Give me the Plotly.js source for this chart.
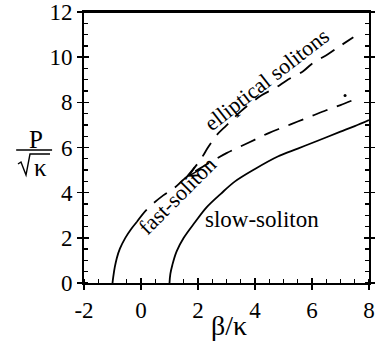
<!DOCTYPE html>
<html><head><meta charset="utf-8">
<script src="https://cdn.plot.ly/plotly-3.0.1.min.js"></script>
<style>html,body{margin:0;padding:0;background:#fff}#chart{width:375px;height:345px}</style>
</head><body><div id="chart"></div>
<script>
// slow soliton (solid)
const slowX = [1.0, 1.03, 1.1, 1.25, 1.5, 1.9, 2.3, 2.8, 3.3, 4.0, 4.8, 5.5, 6.2, 7.0, 7.5, 8.0];
const slowY = [0.0, 0.4, 0.8, 1.4, 2.0, 2.7, 3.35, 3.95, 4.5, 5.05, 5.6, 5.95, 6.3, 6.7, 6.95, 7.22];
// fast soliton, stable part (solid)
const fastSolidX = [-1.0, -0.97, -0.92, -0.85, -0.74, -0.55, -0.35, -0.15];
const fastSolidY = [0.0, 0.3, 0.7, 1.1, 1.52, 2.0, 2.38, 2.7];
// fast soliton, continuation (dashed)
const fastDashX = [-0.15, 0.2, 0.78, 1.13, 1.6, 2.0, 2.5, 3.0, 3.5, 4.0, 4.5, 5.0, 5.5, 6.0, 6.5, 7.0, 7.56];
const fastDashY = [2.7, 3.25, 3.88, 4.17, 4.69, 5.02, 5.4, 5.75, 6.05, 6.35, 6.65, 6.9, 7.15, 7.4, 7.65, 7.88, 8.16];
// elliptical solitons (dashed)
const ellX = [1.6, 2.07, 2.36, 2.65, 3.0, 3.5, 4.23, 4.76, 5.11, 5.69, 5.99, 6.57, 6.92, 7.45];
const ellY = [4.69, 5.43, 6.02, 6.54, 6.98, 7.6, 8.31, 8.67, 8.97, 9.38, 9.70, 10.14, 10.44, 10.88];
// isolated dot
const dotX = [7.16];
const dotY = [8.3];

const xTicks = [-2, 0, 2, 4, 6, 8];
const yTicks = [0, 2, 4, 6, 8, 10, 12];

const FONT = "'Liberation Serif', 'Times New Roman', serif";
const line = {color: '#000', width: 1.8, shape: 'spline'};
const dashLine = {color: '#000', width: 1.8, dash: '16px,10px', shape: 'spline'};

const traces = [
  {x: slowX, y: slowY, mode: 'lines', line: line, hoverinfo: 'skip'},
  {x: fastSolidX, y: fastSolidY, mode: 'lines', line: line, hoverinfo: 'skip'},
  {x: fastDashX, y: fastDashY, mode: 'lines', line: dashLine, hoverinfo: 'skip'},
  {x: ellX, y: ellY, mode: 'lines', line: dashLine, hoverinfo: 'skip'},
  {x: dotX, y: dotY, mode: 'markers', marker: {color: '#000', size: 3}, hoverinfo: 'skip'},
  {x: [null], y: [null], xaxis: 'x2', yaxis: 'y2', mode: 'lines', hoverinfo: 'skip'}
];
traces.forEach(t => { t.showlegend = false; });

const tf = {family: FONT, size: 23, color: '#000'};
const axBase = {showgrid: false, zeroline: false, tickcolor: '#000', tickwidth: 1.6, fixedrange: true};
const layout = {
  width: 375, height: 345,
  margin: {l: 84, r: 6, t: 12, b: 62},
  paper_bgcolor: '#fff', plot_bgcolor: '#fff',
  showlegend: false,
  font: {family: FONT, color: '#000', size: 22},
  xaxis: Object.assign({}, axBase, {
    range: [-2, 8], tickvals: xTicks, ticktext: xTicks.map(String),
    showline: true, linewidth: 2, linecolor: '#000', mirror: true,
    ticks: 'outside', ticklen: 5, tickfont: tf, ticklabeloverflow: 'allow',
    minor: {ticks: 'inside', ticklen: 4, dtick: 0.5, tickwidth: 1.3, tickcolor: '#000', showgrid: false}
  }),
  yaxis: Object.assign({}, axBase, {
    range: [0, 12], tickvals: yTicks, ticktext: yTicks.map(String),
    showline: true, linewidth: 2, linecolor: '#000', mirror: 'ticks',
    ticks: 'outside', ticklen: 5, tickfont: tf, ticklabeloverflow: 'allow',
    minor: {ticks: 'inside', ticklen: 4, dtick: 0.5, tickwidth: 1.3, tickcolor: '#000', showgrid: false}
  }),
  xaxis2: Object.assign({}, axBase, {
    range: [-2, 8], overlaying: 'x', anchor: 'y', side: 'bottom', tickvals: xTicks,
    ticks: 'inside', ticklen: 5, showticklabels: false, showline: false
  }),
  yaxis2: Object.assign({}, axBase, {
    range: [0, 12], overlaying: 'y', anchor: 'x', side: 'left', tickvals: yTicks,
    ticks: 'inside', ticklen: 5, showticklabels: false, showline: false, mirror: 'ticks'
  }),
  annotations: [
    {text: 'elliptical solitons', x: 4.4, y: 9.02, xref: 'x', yref: 'y', showarrow: false,
     xanchor: 'center', yanchor: 'middle', textangle: -38, font: {family: FONT, size: 22, color: '#000'}},
    {text: 'fast-soliton', x: 1.28, y: 3.86, xref: 'x', yref: 'y', showarrow: false,
     xanchor: 'center', yanchor: 'middle', textangle: -45, font: {family: FONT, size: 22, color: '#000'}},
    {text: 'slow-soliton', x: 4.25, y: 2.79, xref: 'x', yref: 'y', showarrow: false,
     xanchor: 'center', yanchor: 'middle', font: {family: FONT, size: 23, color: '#000'}},
    {text: '', x: 1.62, y: 4.7, ax: 2.15, ay: 5.08, xref: 'x', yref: 'y', axref: 'x', ayref: 'y',
     showarrow: true, arrowhead: 5, arrowsize: 1.3, arrowwidth: 1.4, arrowcolor: '#000'},
    {text: 'β/κ', x: 0.509, y: -0.155, xref: 'paper', yref: 'paper', showarrow: false,
     xanchor: 'center', yanchor: 'middle', font: {family: FONT, size: 28, color: '#000'}},
    {text: 'P', x: -0.168, y: 0.531, xref: 'paper', yref: 'paper', showarrow: false,
     xanchor: 'center', yanchor: 'middle', font: {family: FONT, size: 25, color: '#000'}},
    {text: 'κ', x: -0.152, y: 0.428, xref: 'paper', yref: 'paper', showarrow: false,
     xanchor: 'center', yanchor: 'middle', font: {family: FONT, size: 25, color: '#000'}}
  ],
  shapes: [
    {type: 'line', xref: 'paper', yref: 'paper', x0: 0, x1: 1, y0: 1, y1: 1,
     line: {color: '#000', width: 2}},
    {type: 'line', xref: 'paper', yref: 'paper', x0: -0.238, x1: -0.112, y0: 0.491, y1: 0.491,
     line: {color: '#000', width: 1.5}},
    {type: 'path', xref: 'paper', yref: 'paper',
     path: 'M -0.2316 0.4391 L -0.2211 0.4465 L -0.2035 0.3985 L -0.1895 0.476 L -0.1193 0.476',
     line: {color: '#000', width: 1.4}}
  ]
};
Plotly.newPlot('chart', traces, layout, {staticPlot: true, displayModeBar: false});
</script>
</body></html>
